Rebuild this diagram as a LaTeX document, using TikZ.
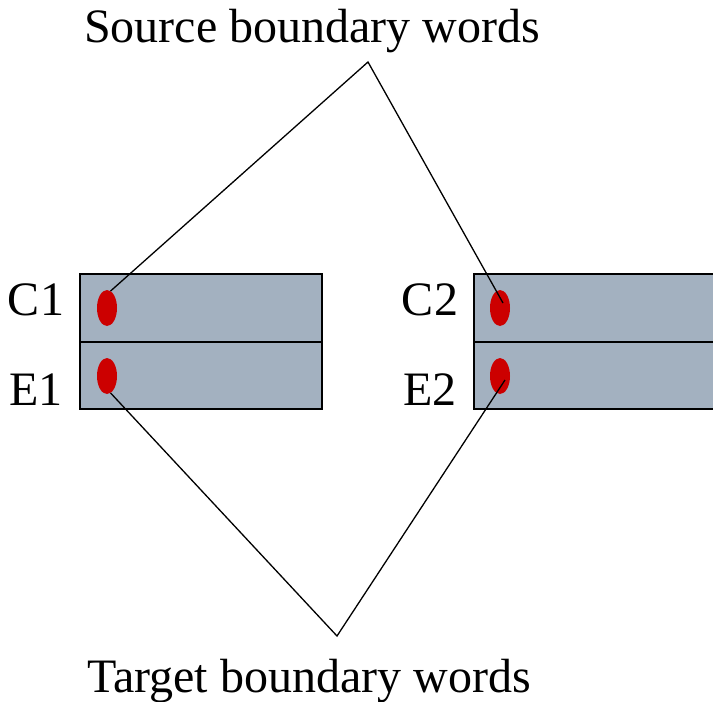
\documentclass[tikz,border=0pt]{standalone}
\usepackage{fontspec}
\setmainfont{Liberation Serif}
\usetikzlibrary{shapes.geometric}
\definecolor{boxgray}{RGB}{163,177,192}
\definecolor{dotred}{RGB}{204,0,0}
\begin{document}
\begin{tikzpicture}[
    x=1pt, y=-1pt,
    every node/.style={font=\fontsize{48}{58}\selectfont},
    field/.style={draw, fill=boxgray, line width=1.5pt, rectangle, inner sep=0pt},
    wdot/.style={ellipse, fill=dotred, inner sep=0pt, minimum width=20pt, minimum height=36pt},
    link/.style={line width=1.3pt}]
    \clip (0,0) rectangle (713,702);
    \node[field, minimum width=242pt, minimum height=68pt] (c1box) at (201,308) {};
    \node[field, minimum width=242pt, minimum height=67pt] (e1box) at (201,375.5) {};
    \node[field, minimum width=300pt, minimum height=68pt] (c2box) at (624,308) {};
    \node[field, minimum width=300pt, minimum height=67pt] (e2box) at (624,375.5) {};
    \node[wdot] (c1dot) at (107,308) {};
    \node[wdot] (e1dot) at (107,376) {};
    \node[wdot] (c2dot) at (500,308) {};
    \node[wdot] (e2dot) at (500,376) {};
    \node[anchor=base] (c1) at (36,315) {C1};
    \node[anchor=base] (e1) at (36,405) {E1};
    \node[anchor=base] (c2) at (430,315) {C2};
    \node[anchor=base] (e2) at (430,405) {E2};
    \node[anchor=base] (src) at (312,42) {Source boundary words};
    \node[anchor=base] (tgt) at (309,692) {Target boundary words};
    \coordinate (srctip) at (368,62);
    \coordinate (tgttip) at (337,636);
    \coordinate (c2end) at (503,303);
    \coordinate (e2end) at (505,380);
    \draw[link] (c1dot.78) -- (srctip) -- (c2end);
    \draw[link] (e1dot.-78) -- (tgttip) -- (e2end);
\end{tikzpicture}
\end{document}
